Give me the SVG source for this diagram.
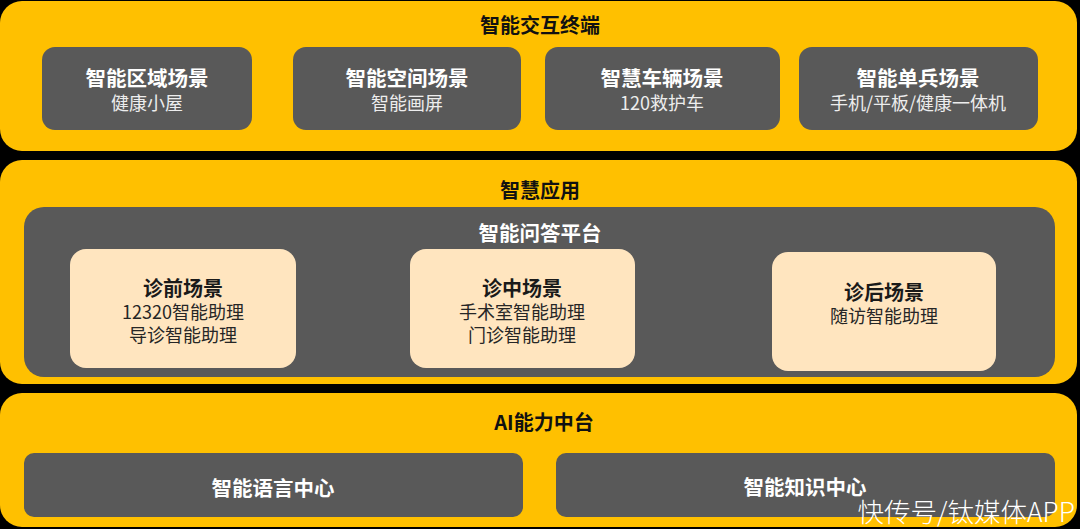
<svg xmlns="http://www.w3.org/2000/svg" width="1080" height="529" viewBox="0 0 1080 529">
<style>
text { font-family: "Noto Sans CJK SC", "Noto Sans", sans-serif; text-anchor: middle; dominant-baseline: central; }
.panel { fill: #FFC000; }
.dark { fill: #595959; }
.peach { fill: #FFE5BF; }
.ptitle { font-size: 20px; font-weight: 700; fill: #111111; }
.wtitle { font-size: 20.5px; font-weight: 700; fill: #FFFFFF; }
.wsub { font-size: 18px; font-weight: 400; fill: #EDEDED; }
.btitle { font-size: 20px; font-weight: 700; fill: #1A1A1A; }
.bsub { font-size: 18px; font-weight: 400; fill: #262626; }
.wm { font-size: 26.5px; font-weight: 300; fill: #FFFFFF; text-anchor: end; }
</style>
<rect x="0" y="0" width="1080" height="529" fill="#000000"/>

<g id="layer-terminal">
  <rect class="panel" x="0" y="1" width="1077" height="150" rx="22"/>
  <text class="ptitle" x="540" y="24">智能交互终端</text>
</g>
<g id="node-region">
  <rect class="dark" x="42" y="47" width="210" height="83" rx="13"/>
  <text class="wtitle" x="147" y="77">智能区域场景</text>
  <text class="wsub" x="147" y="102">健康小屋</text>
</g>
<g id="node-space">
  <rect class="dark" x="293" y="47" width="228" height="83" rx="13"/>
  <text class="wtitle" x="407" y="77">智能空间场景</text>
  <text class="wsub" x="407" y="102">智能画屏</text>
</g>
<g id="node-vehicle">
  <rect class="dark" x="545" y="47" width="235" height="83" rx="13"/>
  <text class="wtitle" x="662" y="77">智慧车辆场景</text>
  <text class="wsub" x="662" y="102">120救护车</text>
</g>
<g id="node-soldier">
  <rect class="dark" x="799" y="47" width="239" height="83" rx="13"/>
  <text class="wtitle" x="918" y="77">智能单兵场景</text>
  <text class="wsub" x="918" y="102">手机/平板/健康一体机</text>
</g>

<g id="layer-app">
  <rect class="panel" x="0" y="160" width="1077" height="224" rx="22"/>
  <text class="ptitle" x="540" y="189">智慧应用</text>
</g>
<g id="node-qa">
  <rect class="dark" x="24" y="207" width="1031" height="170" rx="20"/>
  <text class="wtitle" x="540" y="232">智能问答平台</text>
</g>
<g id="node-pre">
  <rect class="peach" x="70" y="249" width="226" height="119" rx="16"/>
  <text class="btitle" x="183" y="287">诊前场景</text>
  <text class="bsub" x="183" y="311">12320智能助理</text>
  <text class="bsub" x="183" y="334">导诊智能助理</text>
</g>
<g id="node-mid">
  <rect class="peach" x="410" y="249" width="225" height="119" rx="16"/>
  <text class="btitle" x="522" y="287">诊中场景</text>
  <text class="bsub" x="522" y="311">手术室智能助理</text>
  <text class="bsub" x="522" y="334">门诊智能助理</text>
</g>
<g id="node-post">
  <rect class="peach" x="772" y="252" width="224" height="119" rx="16"/>
  <text class="btitle" x="884" y="291">诊后场景</text>
  <text class="bsub" x="884" y="315">随访智能助理</text>
</g>

<g id="layer-ai">
  <rect class="panel" x="0" y="393" width="1077" height="134" rx="22"/>
  <text class="ptitle" x="544" y="421">AI能力中台</text>
</g>
<g id="node-language">
  <rect class="dark" x="24" y="453" width="499" height="64" rx="10"/>
  <text class="wtitle" x="273" y="487">智能语言中心</text>
</g>
<g id="node-knowledge">
  <rect class="dark" x="556" y="453" width="499" height="64" rx="10"/>
  <text class="wtitle" x="805" y="486">智能知识中心</text>
</g>

<g id="connectors"/>

<text class="wm" x="1075" y="510">快传号/钛媒体APP</text>
</svg>
